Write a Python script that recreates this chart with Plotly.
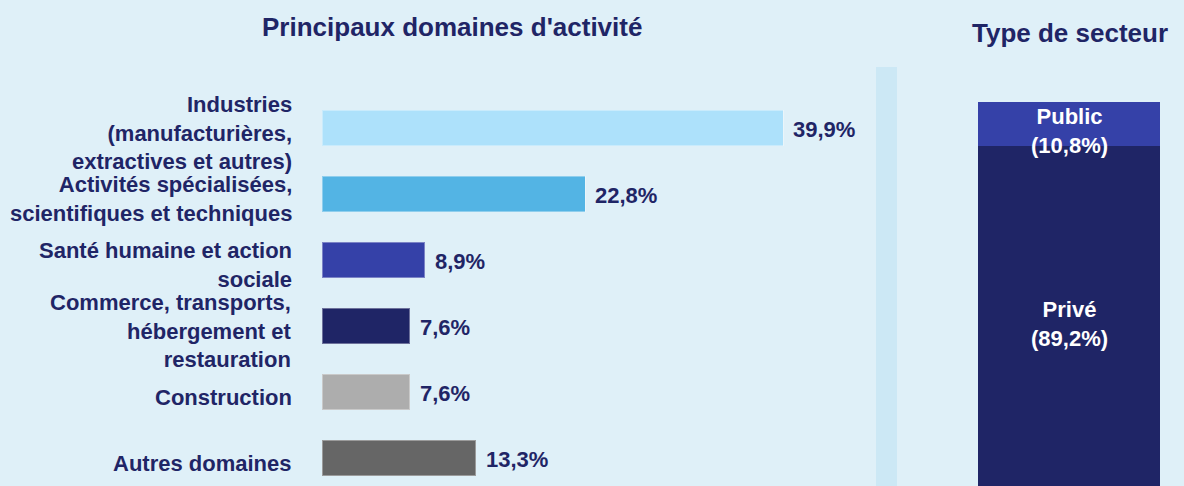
import plotly.graph_objects as go

W, H = 1184, 486

# ---- data ----
categories = [
    "Industries<br>(manufacturières,<br>extractives et autres)",
    "Activités spécialisées,<br>scientifiques et techniques",
    "Santé humaine et action<br>sociale",
    "Commerce, transports,<br>hébergement et<br>restauration",
    "Construction",
    "Autres domaines",
]
values = [39.9, 22.8, 8.9, 7.6, 7.6, 13.3]
value_labels = ["39,9%", "22,8%", "8,9%", "7,6%", "7,6%", "13,3%"]
bar_colors = ["#ade1fb", "#53b4e4", "#3541a8", "#1f2566", "#adadad", "#666666"]

sectors = ["Privé", "Public"]
sector_values = [89.2, 10.8]
sector_labels = ["Privé<br>(89,2%)", "Public<br>(10,8%)"]
sector_colors = ["#1f2566", "#3541a8"]

NAVY = "#1f2566"
BG = "#dff0f8"
FONT = "Liberation Sans, Arial, sans-serif"
LAB = 22
TIT = 26

fig = go.Figure()

fig.add_trace(go.Bar(
    x=values, y=categories, orientation="h",
    marker=dict(color=bar_colors, line=dict(color="rgba(255,255,255,0.35)", width=1)),
    width=0.545, xaxis="x", yaxis="y", hoverinfo="skip", showlegend=False,
))

for s, v, c in zip(sectors, sector_values, sector_colors):
    fig.add_trace(go.Bar(
        x=["secteur"], y=[v], name=s,
        marker=dict(color=c, line=dict(width=0)),
        width=1, xaxis="x2", yaxis="y2", hoverinfo="skip", showlegend=False,
    ))

annotations = []
for cat, v, lab in zip(categories, values, value_labels):
    # value label
    annotations.append(dict(
        x=v, y=cat, xref="x", yref="y", text=f"<b>{lab}</b>", showarrow=False,
        xanchor="left", yanchor="middle", xshift=8, yshift=-1,
        font=dict(family=FONT, size=LAB, color=NAVY),
    ))
    # category label
    annotations.append(dict(
        x=0, y=cat, xref="x", yref="y", text=f"<b>{cat}</b>", showarrow=False,
        xanchor="right", yanchor="middle", align="right", xshift=-28, yshift=-5,
        font=dict(family=FONT, size=LAB, color=NAVY),
    ))

cum = 0
shifts = {"Privé": 4, "Public": -7}
for s, v, lab in zip(sectors, sector_values, sector_labels):
    mid = cum + v / 2
    cum += v
    annotations.append(dict(
        x="secteur", y=mid, xref="x2", yref="y2", text=f"<b>{lab}</b>", showarrow=False,
        xanchor="center", yanchor="middle", yshift=shifts[s],
        font=dict(family=FONT, size=LAB, color="white"),
    ))

annotations.append(dict(
    x=452 / W, y=1 - 27 / H, xref="paper", yref="paper",
    text="<b>Principaux domaines d'activité</b>", showarrow=False,
    xanchor="center", yanchor="middle",
    font=dict(family=FONT, size=TIT, color=NAVY),
))
annotations.append(dict(
    x=1070 / W, y=1 - 33 / H, xref="paper", yref="paper",
    text="<b>Type de secteur</b>", showarrow=False,
    xanchor="center", yanchor="middle",
    font=dict(family=FONT, size=TIT, color=NAVY),
))

px_per_cat = 66.0
first_center = 128.0
px_per_pct_left = (783 - 322) / 39.9
left_x0, left_x1 = 322, 870

px_per_pct_right = 44 / 10.8
top_px = 102

fig.update_layout(
    width=W, height=H,
    margin=dict(l=0, r=0, t=0, b=0),
    paper_bgcolor=BG, plot_bgcolor="rgba(0,0,0,0)",
    barmode="stack",
    annotations=annotations,
    shapes=[dict(
        type="rect", xref="paper", yref="paper",
        x0=876 / W, x1=897 / W, y0=0, y1=1 - 67 / H,
        fillcolor="#cce8f5", line=dict(width=0), layer="below",
    )],
    xaxis=dict(
        domain=[left_x0 / W, left_x1 / W],
        range=[0, (left_x1 - left_x0) / px_per_pct_left],
        visible=False, fixedrange=True,
    ),
    yaxis=dict(
        domain=[0, 1],
        type="category",
        categoryorder="array", categoryarray=categories,
        range=[(H - first_center) / px_per_cat, -first_center / px_per_cat],
        showgrid=False, zeroline=False, showline=False,
        showticklabels=False, ticks="",
        fixedrange=True,
    ),
    xaxis2=dict(
        domain=[978 / W, 1160 / W],
        range=[-0.5, 0.5],
        visible=False, fixedrange=True,
    ),
    yaxis2=dict(
        domain=[0, 1], anchor="x2",
        range=[100 - (H - top_px) / px_per_pct_right, 100 + top_px / px_per_pct_right],
        visible=False, fixedrange=True,
    ),
)

fig.write_html(
    "out.html",
    config={"displayModeBar": False},
    post_script="document.body.style.margin='0';document.body.style.padding='0';document.body.style.overflow='hidden';",
)
